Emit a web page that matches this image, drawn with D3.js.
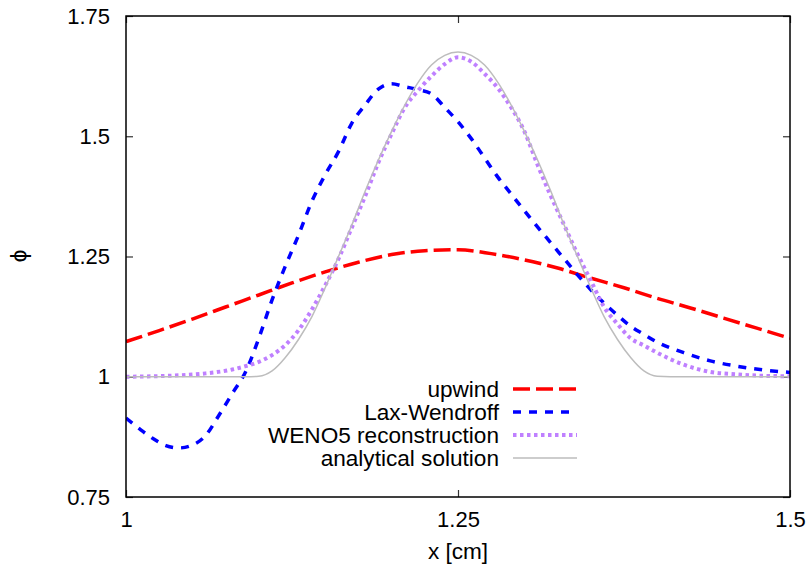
<!DOCTYPE html>
<html><head><meta charset="utf-8">
<script src="https://cdn.jsdelivr.net/npm/d3@7"></script>
<style>body{margin:0;background:#fff}svg{display:block}text{font-family:"Liberation Sans",Arial,sans-serif;fill:#000}</style>
</head><body><svg id="c" width="809" height="570"></svg>
<script>
const xTicks = [1, 1.25, 1.5];
const yTicks = [0.75, 1, 1.25, 1.5, 1.75];
const seriesNames = ["upwind", "Lax-Wendroff", "WENO5 reconstruction", "analytical solution"];

const upwindX = [1.00,1.025,1.05,1.075,1.10,1.125,1.15,1.175,1.20,1.225,1.25,1.275,1.30,1.325,1.35,1.375,1.40,1.425,1.45,1.475,1.50];
const upwindY = [1.073,1.096,1.12,1.145,1.17,1.195,1.218,1.238,1.254,1.262,1.264,1.256,1.243,1.226,1.205,1.185,1.163,1.143,1.122,1.101,1.080];

const laxX = [1.00,1.01,1.02,1.03,1.04,1.05,1.06,1.07,1.08,1.09,1.10,1.11,1.12,1.13,1.14,1.15,1.16,1.17,1.18,1.19,1.20,1.21,1.22,1.23,1.24,1.25,1.26,1.27,1.28,1.29,1.30,1.31,1.32,1.33,1.34,1.35,1.36,1.37,1.38,1.39,1.40,1.42,1.44,1.46,1.48,1.50];
const laxY = [0.914,0.892,0.872,0.857,0.852,0.858,0.878,0.92,0.965,1.01,1.08,1.16,1.23,1.295,1.365,1.42,1.468,1.527,1.565,1.598,1.609,1.603,1.597,1.588,1.56,1.53,1.495,1.455,1.415,1.38,1.345,1.311,1.278,1.245,1.212,1.181,1.153,1.128,1.105,1.088,1.072,1.05,1.033,1.022,1.014,1.009];

const wenoX = [1.00,1.02,1.04,1.06,1.08,1.09,1.10,1.11,1.12,1.13,1.14,1.15,1.16,1.17,1.18,1.19,1.20,1.21,1.22,1.23,1.24,1.25,1.26,1.27,1.28,1.29,1.30,1.31,1.32,1.33,1.34,1.35,1.36,1.37,1.38,1.39,1.40,1.42,1.44,1.46,1.48,1.50];
const wenoY = [1.0,1.001,1.003,1.007,1.015,1.022,1.031,1.045,1.066,1.097,1.14,1.19,1.245,1.31,1.375,1.445,1.505,1.56,1.595,1.625,1.65,1.664,1.655,1.63,1.60,1.56,1.51,1.44,1.375,1.315,1.255,1.20,1.145,1.11,1.08,1.065,1.05,1.025,1.01,1.005,1.002,1.001];

const anaX = [1.00,1.05,1.09,1.10,1.11,1.12,1.13,1.14,1.15,1.16,1.17,1.18,1.19,1.20,1.21,1.22,1.23,1.24,1.25,1.26,1.27,1.28,1.29,1.30,1.31,1.32,1.33,1.34,1.35,1.36,1.37,1.38,1.39,1.40,1.41,1.45,1.50];
const anaY = [1.0,1.0,1.0,1.001,1.012,1.04,1.078,1.125,1.185,1.25,1.315,1.385,1.45,1.51,1.565,1.612,1.648,1.668,1.675,1.668,1.648,1.612,1.565,1.51,1.45,1.385,1.315,1.25,1.185,1.125,1.078,1.04,1.012,1.001,1.0,1.0,1.0];

const svg = d3.select("#c");
const L = 126, R = 790, T = 16, B = 497;
const x = d3.scaleLinear().domain([1, 1.5]).range([L, R]);
const y = d3.scaleLinear().domain([0.75, 1.75]).range([B, T]);

const styles = [
  {color:"#ff0000", width:3.5, dash:"17,6"},
  {color:"#0000ff", width:3.5, dash:"8,8"},
  {color:"#bf80ff", width:4, dash:"3.5,3.5"},
  {color:"#bdbdbd", width:1.5, dash:null}
];
const series = [
  d3.zip(upwindX, upwindY),
  d3.zip(laxX, laxY),
  d3.zip(wenoX, wenoY),
  d3.zip(anaX, anaY)
];

const fs = 22, lfs = 22.6;
const axB = d3.axisBottom(x).tickValues(xTicks).tickSize(-7).tickPadding(14).tickFormat(d3.format("~g"));
const axT = d3.axisTop(x).tickValues(xTicks).tickSize(-7).tickFormat("");
const axL = d3.axisLeft(y).tickValues(yTicks).tickSize(-7).tickPadding(16).tickFormat(d3.format("~g"));
const axR = d3.axisRight(y).tickValues(yTicks).tickSize(-7).tickFormat("");
function styleAx(g){
  g.select(".domain").remove();
  g.selectAll(".tick line").attr("stroke","#333").attr("stroke-width",1.2);
  g.selectAll("text").attr("font-size",fs).attr("font-family",'"Liberation Sans",Arial,sans-serif').attr("fill","#000");
}
svg.append("g").attr("transform",`translate(0,${B})`).call(axB).call(styleAx);
svg.append("g").attr("transform",`translate(0,${T})`).call(axT).call(styleAx);
svg.append("g").attr("transform",`translate(${L},0)`).call(axL).call(styleAx);
svg.append("g").attr("transform",`translate(${R},0)`).call(axR).call(styleAx);

svg.append("clipPath").attr("id","clp").append("rect").attr("x",L).attr("y",T).attr("width",R-L).attr("height",B-T);

const line = d3.line().x(d=>x(d[0])).y(d=>y(d[1])).curve(d3.curveMonotoneX);
const plot = svg.append("g").attr("clip-path","url(#clp)");
series.forEach((s,i)=>{
  plot.append("path").datum(s).attr("d",line).attr("fill","none")
    .attr("stroke",styles[i].color).attr("stroke-width",styles[i].width)
    .attr("stroke-dasharray",styles[i].dash);
});

svg.append("rect").attr("x",L).attr("y",T).attr("width",R-L).attr("height",B-T)
  .attr("fill","none").attr("stroke","#000").attr("stroke-width",1.5);

const leg = svg.append("g");
seriesNames.forEach((n,i)=>{
  const yy = 389 + i*23;
  leg.append("text").attr("x",499).attr("y",yy).attr("dy","0.35em").attr("text-anchor","end")
    .attr("font-size",lfs).text(n);
  leg.append("line").attr("x1",513).attr("x2",577).attr("y1",yy).attr("y2",yy)
    .attr("stroke",styles[i].color).attr("stroke-width",styles[i].width)
    .attr("stroke-dasharray",styles[i].dash);
});

svg.append("text").attr("x",(L+R)/2).attr("y",551).attr("dy","0.35em").attr("text-anchor","middle")
  .attr("font-size",lfs).text("x [cm]");
svg.append("text").attr("transform","translate(18,256) rotate(-90)").attr("dy","0.35em").attr("text-anchor","middle")
  .attr("font-size",lfs).text("ϕ");
</script></body></html>
